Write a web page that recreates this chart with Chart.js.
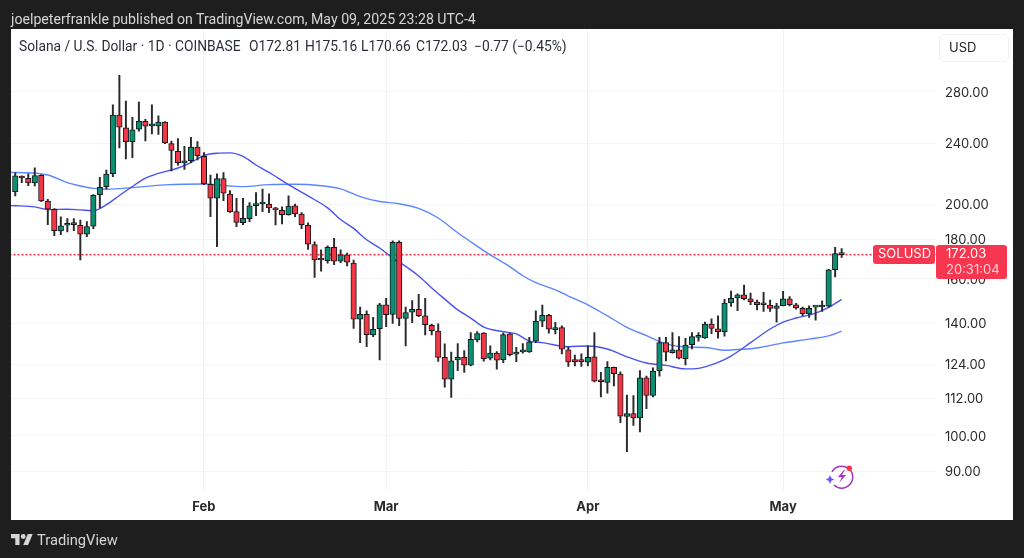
<!DOCTYPE html>
<html>
<head>
<meta charset="utf-8">
<script src="https://cdn.jsdelivr.net/npm/chart.js@4/dist/chart.umd.min.js"></script>
<style>
html,body{margin:0;padding:0;width:1024px;height:558px;overflow:hidden;background:#1e1e1e;font-family:Roboto,sans-serif}
#panel{position:absolute;left:11px;top:29px;width:1002px;height:491px;background:#fff}
#edge{position:absolute;left:0;top:0;width:11px;height:558px;background:#1e1e1e}
canvas{position:absolute;left:0;top:0}
.t{position:absolute;white-space:nowrap}
#pub{left:11px;top:11px;font-size:14.15px;line-height:16px;color:#d6d6d6}
.h{top:38px;font-size:13.8px;line-height:16px;color:#2a2e39}
#usd{position:absolute;left:939px;top:34px;width:68px;height:26px;border:1px solid #f0f0f0;border-radius:5px;font:13px Inter,sans-serif;line-height:25px;color:#222;box-sizing:content-box;text-indent:9px}
#brand{left:37px;top:530px;font-size:14.7px;line-height:20px;color:#d6d6d6}
svg{position:absolute}
</style>
</head>
<body>
<div id="panel"></div>
<canvas id="c" width="1024" height="558"></canvas>
<div id="edge"></div>
<div class="t" id="pub">joelpeterfrankle published on TradingView.com, May 09, 2025 23:28 UTC-4</div>
<div class="t h" style="left:19px">Solana / U.S. Dollar · 1D · COINBASE</div>
<div class="t h" style="left:249px">O172.81</div>
<div class="t h" style="left:305px">H175.16</div>
<div class="t h" style="left:361px">L170.66</div>
<div class="t h" style="left:416px">C172.03</div>
<div class="t h" style="left:474px">−0.77 (−0.45%)</div>
<div id="usd">USD</div>
<svg style="left:11px;top:533px" width="22" height="13" viewBox="0 3 36 20"><path fill="#d6d6d6" d="M14 22H7V11H0V4h14v18zM28 22h-8l7.5-18h8L28 22z"/><circle cx="20" cy="8" r="4" fill="#d6d6d6"/></svg>
<div class="t" id="brand">TradingView</div>
<svg style="left:824px;top:462px" width="32" height="30" viewBox="0 0 32 30">
<path d="M8 10A11 11 0 1 1 10 23" fill="none" stroke="#a533c4" stroke-width="1.5"/>
<path d="M20 8l-6 7h4l-3 6 7-8h-4l3-5z" fill="#a533c4"/>
<path d="M6 12.5c.6 3 1.4 4 4.5 5-3 .8-3.900 1.800-4.500 5-.6-3.200-1.500-4.200-4.500-5 3-1 3.900-2 4.500-5z" fill="#7a4dff"/>
<circle cx="25.300" cy="6.300" r="2.700" fill="#f23645"/>
</svg>
<script>
const firstDay = Date.UTC(2025,0,2);
const slotCount = 143;
const dates = [];
for (let n = 0; n < slotCount; n++) dates.push(new Date(firstDay + n*864e5).toISOString().slice(0,10));

const monthTicks = {'2025-02-01':'Feb','2025-03-01':'Mar','2025-04-01':'Apr','2025-05-01':'May'};
const priceTicks = [90,100,112,124,140,160,180,200,240,280];

const opens = [207.8,217.6,216.2,213.2,218.2,202,197.1,184.7,187.9,188.2,187.9,182.9,187.3,205.9,210.9,219.3,261.2,251.5,241.3,250.5,256.5,253,253,255.8,239.9,234.5,226.4,228,237.4,231,212.4,203.7,216,206.2,195.7,189.3,191.6,199.2,200.2,200.2,197.7,196.5,193.9,199.1,194.2,187.9,177.3,169.7,169,175.9,168.7,171.9,167.7,141.8,143.9,135.3,137.8,148,143.9,178.5,142.1,144.8,146.1,143.3,139.2,136.9,126.5,118.5,125.5,126.5,123.6,133.3,136,126.2,128.1,125.6,135.7,127.7,128.6,128.6,132.8,141,143.5,137.4,138.3,129.4,125.1,125.1,124.7,126.7,118,117.4,122.8,120.3,106,106.9,105.5,119,112.9,121.6,132.2,128.3,129.4,126,131.4,134.3,134.1,139.8,137.8,136.6,148.9,151.1,152.6,150.7,149.3,148.4,147.9,146.5,147.7,150.7,148,146.5,144.2,147,147.1,147.4,164.5,172.81];
const highs = [219.8,217.8,219.1,223.1,218.6,203,197.5,192.7,191.6,191.6,190.8,189.9,205.9,216.9,221.7,269.4,294.4,272.4,259.6,271.6,258,269.4,260.7,256.2,241.8,243.5,238,244.5,241.3,233.5,218.4,219.1,220,208.4,203.7,203.7,201,207.2,209.3,206.4,198.3,198.6,205.1,200.2,195.1,189.3,178.8,174.5,176.6,180.6,174.5,172.8,169.3,147,145.4,142.6,148.7,151,179.3,179.3,147,149.9,152.8,151,139.8,139.9,131.7,128.5,131.8,129.1,136.2,136.6,136.2,130.9,128.7,136,136,130.4,131.8,134.3,145.4,147.9,143.9,140.5,139,130.6,127.4,127.8,130.9,136.2,121,124.9,122.9,121.1,113,112.8,121.6,119.6,122.6,134.3,134.3,136.2,134.6,133.9,136.2,136.2,140.6,142,143.2,150.5,154.3,153,157.1,153.3,150.2,153.7,150.2,148.7,154.2,151.7,148.7,147,147.6,147.3,149.8,164.7,175.9,175.16];
const lows = [205.1,213.4,211.5,211.3,201.6,188.2,182.1,182.6,184.1,184.8,169.3,181.5,186,198,209.5,217.3,236.9,229.1,230,249,241.8,247,246.5,239.9,221.1,224.9,222,226.6,228.4,212.2,192.7,176.2,202.2,195.3,187.1,188.2,189.9,193.3,195.7,195.1,188,188.6,193.7,192.7,186,174.7,160.7,163.7,167.7,167,168,166.3,138,132.2,130.6,134.6,125.5,138.7,140,139.1,130.9,140.3,142.9,135.3,135.3,125,115.7,112.2,121.6,120.9,123.3,132.5,125.1,125.5,122.1,124.5,127,124.9,128.1,128.4,132.2,138.7,136,135.7,127.8,123.1,123.3,123.1,123.3,117.5,112.4,113.6,116.1,104,95.4,103.2,101.2,108.5,112.4,119.6,125.2,128.1,125.9,123.7,129.7,132.8,133.9,135.8,134,134.8,147.3,145.5,150.2,148.1,145.8,145.1,145.1,140.6,147.6,147.6,146.1,143.3,142.6,141.4,145.1,147,161,170.66];
const closes = [217.8,216.4,213.2,218,202,197.1,184.8,187.5,188.2,188.6,182.9,187.1,205.5,210.5,218.9,261.2,252,241.3,250,256.5,252.8,253.5,255.8,240.4,235,226.6,227.5,237.4,231.4,212.6,203.7,216,206.8,195.7,189.5,191.8,199.1,200.4,200.7,197.9,196.7,193.9,198.9,194.3,188.2,177.5,169.3,169.3,175.9,168.7,171.9,168.2,141.8,143.9,135.4,137.6,148,143.7,178.5,142.1,144.6,146.1,143.3,139.5,137,126.5,118.5,125.2,126.5,123.6,133.5,135.8,126,128.1,125.4,135.4,127.5,128.5,129,132.5,140.9,143.5,137.6,138.3,129.6,124.8,124.9,124.9,126.5,117.8,117.6,122.8,120.5,106.1,106.9,105.5,119,112.9,121.4,132.2,128.5,129.4,126.2,131.2,134.6,134.6,139.8,138,136.6,148.8,151,152.6,150.8,149.5,148.1,148.1,146.5,147.6,150.7,148.1,146.7,144.2,146.5,147.3,147.6,164.4,172.6,172.03];

const slowDays = [0,1,6,9,11,13,15,19,24,30,34,36,40,44,48,51,54,57,60,63,66,69,71,74,77,79,81,84,86,89,92,95,98,101,104,107,109,110,112,115,119,123,126,128];
const slowValues = [220,220,218.4,213.4,211.3,209.8,209.3,210.3,212,212.6,211.3,210.9,212.2,212.4,211.5,209.5,204.7,201.7,200.4,197.6,192,183.7,178.8,171.9,166,161.5,158.2,154.8,152,148,143.2,138.4,135,131.7,130.5,130.3,129.5,129.2,129.5,130.1,132.1,133.6,134.9,136.8];
const fastDays = [0,1,4,6,9,11,13,15,17,19,21,23,26,28,30,32,34,36,38,40,43,46,49,51,53,55,57,59,61,63,65,67,69,71,73,76,78,80,82,86,89,92,95,98,101,104,106,109,111,114,117,119,121,124,126,128];
const fastValues = [199.3,199.2,198.5,196.9,197.1,196.7,196.3,199.8,205.4,211,216.4,219.4,223,226.7,231.5,233.1,233.3,230.9,225,220.1,212.2,205.1,197.9,191.1,186.1,179.9,175.5,170.3,166.1,161.4,155.7,150.6,145.8,142.3,138.5,136.6,135.7,132.8,132.2,130.6,130.9,129.7,126.7,124.4,123.5,122.2,122.4,124.6,127,132.2,137.7,140.6,142.3,144.4,146.9,150.5];

const symbol = 'SOLUSD', lastPrice = 172.03, countdown = '20:31:04';
const UP = '#0a8f72', DOWN = '#f23645', INK = '#17181c';
const isUp = i => closes[i] >= opens[i];

const overlay = {
  id:'overlay',
  beforeDatasetsDraw(chart){
    const y = chart.scales.y.getPixelForValue(lastPrice), a = chart.chartArea, c = chart.ctx;
    c.save(); c.strokeStyle = '#ff2d45'; c.lineWidth = 1.6; c.setLineDash([2,2]);
    c.beginPath(); c.moveTo(a.left, y); c.lineTo(a.right, y); c.stroke(); c.restore();
  },
  afterDraw(chart){
    const y = chart.scales.y.getPixelForValue(lastPrice), c = chart.ctx, a = chart.chartArea;
    const top = Math.round(y) - 10;
    c.save(); c.fillStyle = '#f7374f';
    c.beginPath(); c.roundRect(a.right-63, top, 62, 19, 3); c.fill();
    c.beginPath(); c.roundRect(a.right, top, 71, 34, 3); c.fill();
    c.textBaseline = 'middle'; c.textAlign = 'left'; c.font = '13px Inter, sans-serif';
    c.fillStyle = '#ffffff';
    c.fillText(symbol, a.right-58, top+9.5);
    c.fillText(lastPrice.toFixed(2), a.right+10, top+9.5);
    c.fillStyle = '#ffd0d6';
    c.fillText(countdown, a.right+10, top+25.5);
    c.restore();
  }
};

new Chart(document.getElementById('c'), {
  data:{
    labels:dates,
    datasets:[
      {type:'line', order:4, data:slowDays.map((d,k)=>({x:dates[d],y:slowValues[k]})), borderColor:'#5c86ff', borderWidth:1.4, pointRadius:0, cubicInterpolationMode:'monotone'},
      {type:'line', order:3, data:fastDays.map((d,k)=>({x:dates[d],y:fastValues[k]})), borderColor:'#4a52ee', borderWidth:1.4, pointRadius:0, cubicInterpolationMode:'monotone'},
      {type:'bar', order:2, data:lows.map((l,i)=>({x:dates[i+1],y:[l,highs[i]]})), backgroundColor:'#2a2a2a', barThickness:1.3, grouped:false},
      {type:'bar', order:1, data:opens.map((o,i)=>({x:dates[i+1],y:[o,closes[i]]})), backgroundColor:opens.map((o,i)=>isUp(i)?UP:DOWN), borderColor:INK, borderWidth:1, borderSkipped:false, barThickness:5.5, minBarLength:2, grouped:false}
    ]
  },
  plugins:[overlay],
  options:{
    responsive:false, animation:false,
    layout:{padding:{left:5.5,right:11,top:29,bottom:38}},
    plugins:{legend:{display:false},tooltip:{enabled:false}},
    scales:{
      x:{
        type:'category', offset:true,
        grid:{color:'#f3f3f3',offset:false,drawTicks:false},
        border:{display:false},
        afterBuildTicks(s){ s.ticks = s.ticks.filter(t=>monthTicks[dates[t.value]]); },
        afterFit(s){ s.height = 30; },
        ticks:{autoSkip:false,maxRotation:0,padding:9,color:'#2a2a2a',font:{family:'Inter',size:13,weight:'bold'},callback(v){return monthTicks[dates[v]];}}
      },
      y:{
        type:'logarithmic', position:'right', min:85.04, max:338.1,
        grid:{color:'#f4f4f4',drawTicks:false},
        border:{display:false},
        afterBuildTicks(s){ s.ticks = priceTicks.map(value=>({value})); },
        afterFit(s){ s.width = 77; },
        ticks:{autoSkip:false,padding:9,labelOffset:1,color:'#2a2a2a',font:{family:'Inter',size:13},callback(v){return Number(v).toFixed(2);}}
      }
    }
  }
});
</script>
</body>
</html>
